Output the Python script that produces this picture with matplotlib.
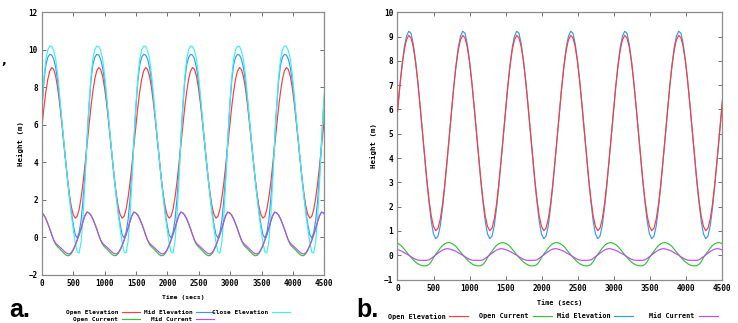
import numpy as np
import matplotlib
matplotlib.use("Agg")
import matplotlib.pyplot as plt

W, H = 738, 323

period = 748
samples_per_cycle = 24
n_cycles = 7

open_elevation = [5.93, 6.92, 7.77, 8.44, 8.87, 9.05, 8.95, 8.58, 7.97, 7.16, 6.20, 5.17,
                  4.13, 3.14, 2.29, 1.62, 1.19, 1.01, 1.11, 1.48, 2.09, 2.90, 3.86, 4.89]

# panel a
mid_elevation_a = [6.90, 8.30, 9.20, 9.60, 9.75, 9.72, 9.50, 9.05, 8.35, 7.40, 6.30, 5.20,
                   4.14, 3.12, 2.20, 1.35, 0.65, 0.12, -0.05, 0.25, 0.90, 2.00, 3.40, 5.20]
close_elevation_a = [7.00, 8.50, 9.50, 10.00, 10.20, 10.18, 9.95, 9.50, 8.70, 7.60, 6.40, 5.25,
                     4.15, 3.10, 2.10, 1.20, 0.40, -0.30, -0.80, -0.85, -0.25, 1.10, 3.00, 5.10]
open_current_a = [1.30, 1.18, 0.98, 0.72, 0.44, 0.12, -0.18, -0.40, -0.52, -0.62, -0.73, -0.84,
                  -0.94, -1.00, -0.98, -0.88, -0.70, -0.46, -0.18, 0.12, 0.45, 0.82, 1.14, 1.32]
mid_current_a = [1.28, 1.16, 0.96, 0.70, 0.42, 0.11, -0.16, -0.33, -0.43, -0.52, -0.62, -0.72,
                 -0.82, -0.89, -0.90, -0.83, -0.66, -0.43, -0.15, 0.15, 0.48, 0.84, 1.16, 1.34]

# panel b
mid_elevation_b = [5.90, 6.93, 7.82, 8.55, 9.02, 9.22, 9.14, 8.70, 8.02, 7.16, 6.18, 5.13,
                   4.08, 3.08, 2.18, 1.40, 0.88, 0.68, 0.78, 1.20, 1.92, 2.82, 3.82, 4.86]
open_current_b = [0.49, 0.44, 0.36, 0.25, 0.13, 0.02, -0.09, -0.19, -0.28, -0.35, -0.40, -0.43,
                  -0.44, -0.43, -0.38, -0.27, -0.10, 0.04, 0.16, 0.29, 0.40, 0.47, 0.51, 0.52]
mid_current_b = [0.23, 0.20, 0.16, 0.10, 0.05, 0.00, -0.06, -0.12, -0.17, -0.20, -0.21, -0.21,
                 -0.21, -0.21, -0.19, -0.13, -0.06, 0.01, 0.08, 0.15, 0.21, 0.25, 0.27, 0.26]

x_ticks = list(range(0, 4501, 500))
y_ticks_a = list(range(-2, 13, 2))
y_ticks_b = list(range(-1, 11, 1))

RED = "#ff3b3b"
GREEN = "#34c234"
BLUE = "#3a96f5"
CYAN = "#3ff0f0"
PURPLE = "#b94cf5"

MONO = "DejaVu Sans Mono"

t = np.arange(n_cycles * samples_per_cycle) * period / samples_per_cycle


def series(vals):
    return np.tile(np.array(vals), n_cycles)


def style_axes(ax, yticks, ylim, tick_size):
    ax.set_xlim(0, 4500)
    ax.set_ylim(*ylim)
    ax.set_xticks(x_ticks)
    ax.set_yticks(yticks)
    for s in ax.spines.values():
        s.set_color("#8c8c8c")
        s.set_linewidth(0.9)
    ax.tick_params(direction="in", length=3, width=0.7, color="#707070",
                   top=True, right=True, pad=3, labelsize=tick_size)
    for lab in ax.get_xticklabels() + ax.get_yticklabels():
        lab.set_fontfamily(MONO)
        lab.set_fontweight("bold")


def legend_col(fig, handles, labels, x_px, y_px, size, hlen):
    leg = fig.legend(handles, labels, loc="upper right",
                     bbox_to_anchor=(x_px / W, 1 - y_px / H),
                     frameon=False, markerfirst=False, borderpad=0,
                     handlelength=hlen, handletextpad=0.55, labelspacing=0.3,
                     prop={"family": MONO, "weight": "bold", "size": size})
    return leg


fig = plt.figure(figsize=(W / 100, H / 100), dpi=100)
fig.patch.set_facecolor("white")

# ---- panel a
ax1 = fig.add_axes([42 / W, 1 - 274.5 / H, 282.3 / W, 262.2 / H])
l_oe, = ax1.plot(t, series(open_elevation), color=RED, lw=0.85)
l_me, = ax1.plot(t, series(mid_elevation_a), color=BLUE, lw=0.85)
l_ce, = ax1.plot(t, series(close_elevation_a), color=CYAN, lw=0.85)
l_oc, = ax1.plot(t, series(open_current_a), color=GREEN, lw=0.85)
l_mc, = ax1.plot(t, series(mid_current_a), color=PURPLE, lw=0.85)
style_axes(ax1, y_ticks_a, (-2, 12), 5.5)
ax1.set_xlabel("Time (secs)", family=MONO, weight="bold", fontsize=4.6, labelpad=5.5)
ax1.set_ylabel("Height (m)", family=MONO, weight="bold", fontsize=5.3, labelpad=3)

legend_col(fig, [l_oe, l_oc], ["Open Elevation", "Open Current"], 142.7, 307, 4.4, 2.95)
legend_col(fig, [l_me, l_mc], ["Mid Elevation", "Mid Current"], 216.7, 307, 4.4, 2.95)
legend_col(fig, [l_ce], ["Close Elevation"], 292.7, 307, 4.4, 2.95)

# ---- panel b
ax2 = fig.add_axes([397.5 / W, 1 - 279.5 / H, 324.8 / W, 267.2 / H])
r_oe, = ax2.plot(t, series(open_elevation), color=RED, lw=0.85)
r_me, = ax2.plot(t, series(mid_elevation_b), color=BLUE, lw=0.85)
r_oc, = ax2.plot(t, series(open_current_b), color=GREEN, lw=0.85)
r_mc, = ax2.plot(t, series(mid_current_b), color=PURPLE, lw=0.85)
r_oe.set_zorder(3)
style_axes(ax2, y_ticks_b, (-1, 10), 5.6)
ax2.set_xlabel("Time (secs)", family=MONO, weight="bold", fontsize=4.9, labelpad=4.5)
ax2.set_ylabel("Height (m)", family=MONO, weight="bold", fontsize=5.3, labelpad=5)

legend_col(fig, [r_oe], ["Open Elevation"], 471.7, 309.5, 4.9, 2.8)
legend_col(fig, [r_oc], ["Open Current"], 555, 309.5, 4.9, 2.8)
legend_col(fig, [r_me], ["Mid Elevation"], 636.7, 309.5, 4.9, 2.8)
legend_col(fig, [r_mc], ["Mid Current"], 721, 309.5, 4.9, 2.8)

# panel letters
fig.text(9 / W, 1 - 317 / H, "a.", fontsize=18, weight="bold", family="Liberation Sans")
fig.text(356 / W, 1 - 317 / H, "b.", fontsize=18, weight="bold", family="Liberation Sans")
fig.text(1 / W, 1 - 64 / H, ",", fontsize=9, weight="bold")

fig.savefig("out.png", dpi=100)
